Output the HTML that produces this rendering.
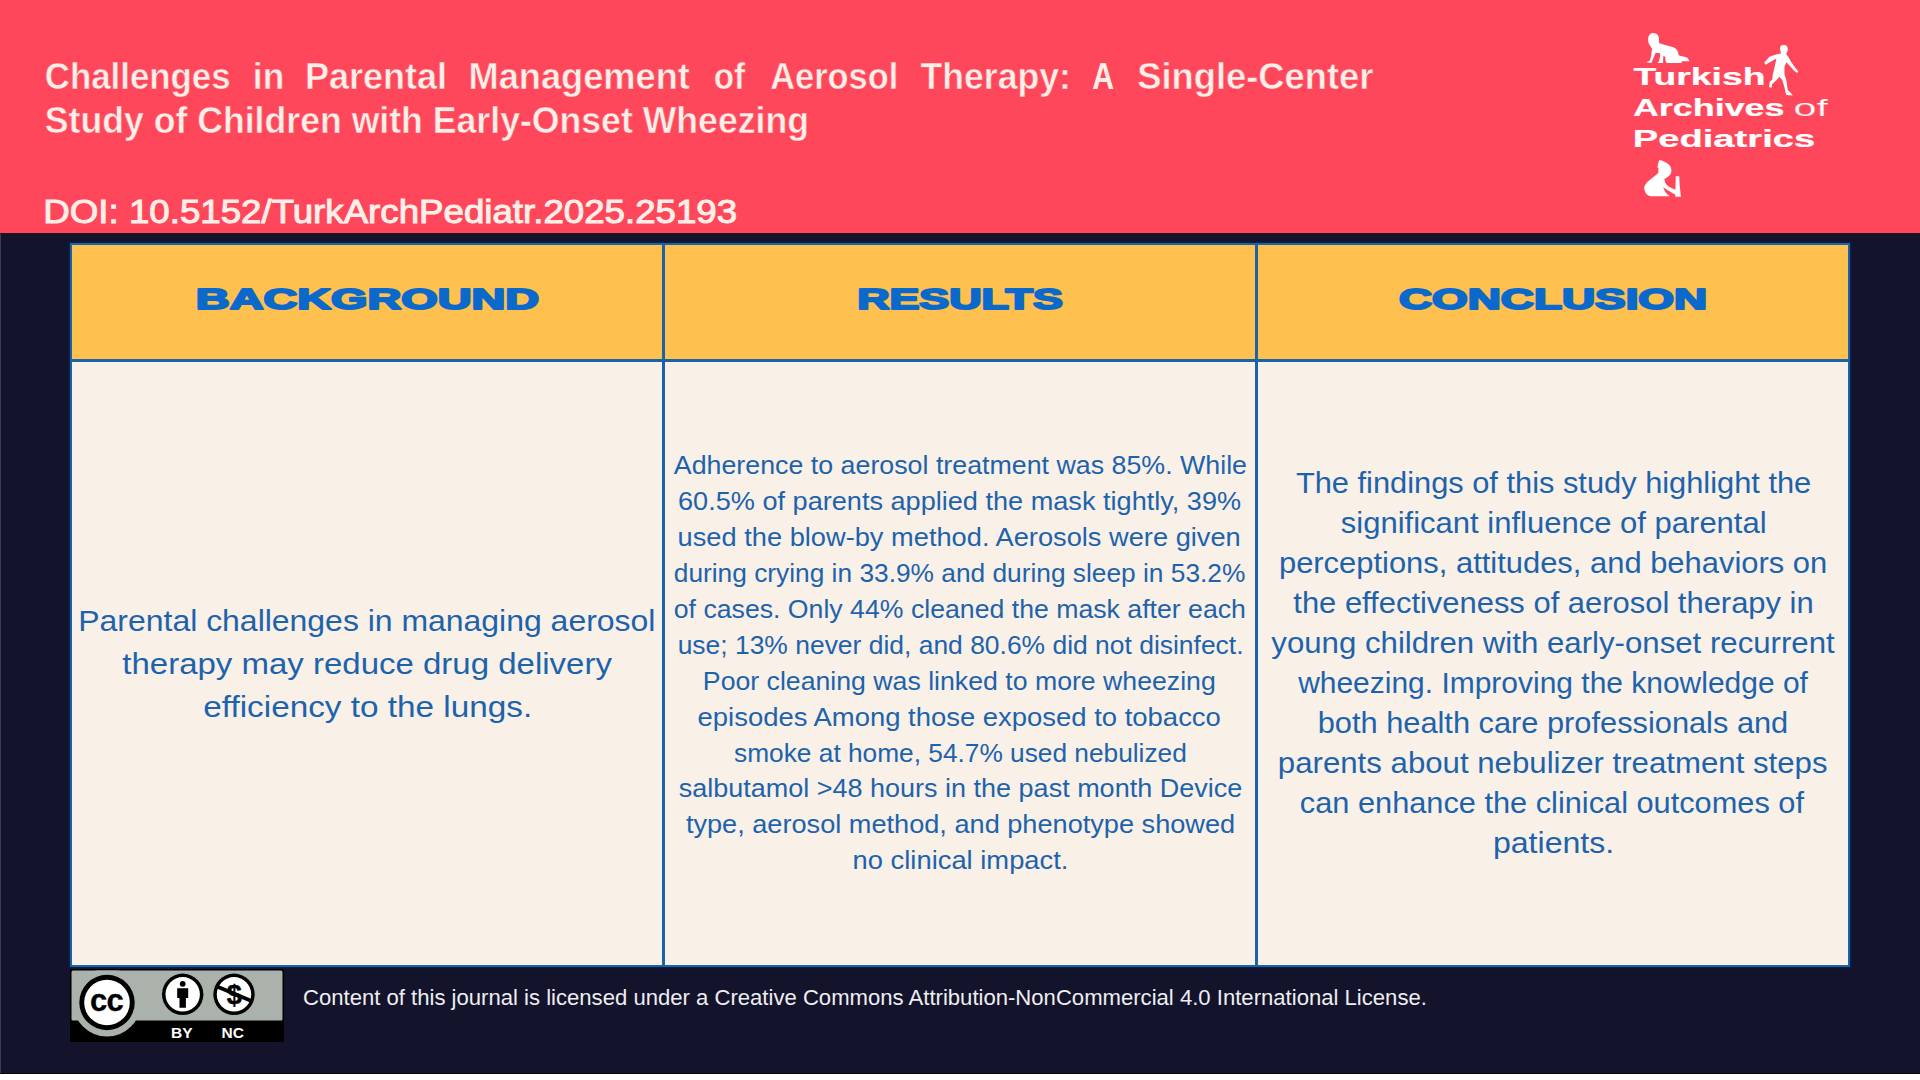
<!DOCTYPE html>
<html><head><meta charset="utf-8">
<style>
*{margin:0;padding:0;box-sizing:border-box}
html,body{width:1920px;height:1080px;overflow:hidden;background:#fff}
body{position:relative;font-family:"Liberation Sans",Arial,sans-serif}
.a{position:absolute}
#red{left:0;top:0;width:1920px;height:233px;background:#FF475B}
#dark{left:0;top:233px;width:1920px;height:841px;background:#13132B}
#edge{left:0;top:233px;width:1px;height:841px;background:#3c3d55}
#tbl{left:70px;top:243px;width:1780px;height:724px;background:#1C62A6;box-shadow:0 0 0 1.5px #0A1E48}
.hd{background:#FEC14F;top:245px;width:590px;height:114px}
.bd{background:#F9F0E8;top:362px;width:590px;height:603px}
svg{position:absolute;left:0;top:0;overflow:visible}
text{font-family:"Liberation Sans",Arial,sans-serif;white-space:pre}
</style></head><body>
<div class="a" id="red"></div>
<div class="a" id="dark"></div>
<div class="a" id="edge"></div>
<div class="a" style="left:0;top:233px;width:1920px;height:1px;background:#2A0A22"></div>
<div class="a" style="left:0;top:1073px;width:1920px;height:1px;background:#05051A"></div>
<div class="a" id="tbl"></div>
<div class="a hd" style="left:72px"></div>
<div class="a hd" style="left:665px"></div>
<div class="a hd" style="left:1258px"></div>
<div class="a bd" style="left:72px"></div>
<div class="a bd" style="left:665px"></div>
<div class="a bd" style="left:1258px"></div>

<!-- logo silhouettes -->
<svg width="1920" height="1080" viewBox="0 0 1920 1080">
<g fill="#FFFFFF">
<!-- crawling baby -->
<path transform="translate(1640 30) scale(0.03333)" d="M400 90 C520 90 580 180 570 300 L570 390 C700 440 850 480 1000 520 C1100 560 1150 640 1160 760 C1250 800 1350 800 1420 830 L1490 940 L1250 940 L1250 990 L800 990 C770 960 760 900 760 800 L700 780 L690 990 L520 990 L560 950 C600 850 620 750 600 700 L470 680 L440 760 L340 990 L180 970 L290 920 L330 800 L360 560 L270 420 C220 300 230 90 400 90 Z"/>
<!-- walking child -->
<path transform="translate(1760 40) scale(0.05556)" d="M430 90 C500 90 505 150 495 200 L470 250 L500 290 L545 370 L610 470 L670 540 L690 575 L660 590 L610 550 L530 460 L475 400 L440 480 L440 620 L470 700 L500 900 L560 960 L590 1000 L470 990 L440 850 L400 720 L350 660 L300 720 L220 790 L210 855 L165 850 L175 750 L220 715 L230 620 L260 500 L295 335 L160 410 L105 445 L75 410 L170 300 L300 255 L380 245 L360 170 C355 110 380 90 430 90 Z"/>
<!-- sitting baby -->
<path transform="translate(1640 155) scale(0.041667)" d="M465 118 C560 130 650 185 715 250 C760 310 765 400 735 455 C700 510 640 550 585 572 C590 640 615 700 670 745 C730 785 790 810 850 832 L858 510 L942 510 L950 700 L982 1000 L850 1000 L842 948 C790 915 700 870 585 790 L555 765 L585 845 C610 900 660 950 720 992 L250 992 C160 965 110 900 100 790 C110 700 200 620 300 545 C380 485 430 445 442 420 L442 310 L418 292 C428 230 445 160 465 118 Z"/>
</g>
</svg>

<!-- CC badge -->
<svg width="1920" height="1080" viewBox="0 0 1920 1080">
<defs><clipPath id="bclip"><rect x="71.5" y="970.5" width="211" height="70"/></clipPath></defs>
<rect x="70" y="969" width="214" height="73" fill="#000"/>
<rect x="71.5" y="970.5" width="211" height="50" rx="1.5" fill="#AAB2AB"/>
<circle cx="107" cy="1002.5" r="34" fill="#AAB2AB" clip-path="url(#bclip)"/>
<circle cx="107" cy="1002.5" r="27.7" fill="#000"/>
<circle cx="107" cy="1002.5" r="22.8" fill="#fff"/>
<text x="106.6" y="1010.6" text-anchor="middle" font-size="31" font-weight="bold" fill="#000" letter-spacing="-0.6" stroke="#000" stroke-width="0.3">cc</text>
<circle cx="182.7" cy="994.3" r="20.7" fill="#000"/>
<circle cx="182.7" cy="994.3" r="17.2" fill="#fff"/>
<circle cx="182.7" cy="983.8" r="2.9" fill="#000"/>
<path d="M177.2 988.2 h11 v9.8 h-2.3 v9.8 h-6.4 v-9.8 h-2.3 Z" fill="#000"/>
<circle cx="234" cy="994.3" r="20.7" fill="#000"/>
<circle cx="234" cy="994.3" r="17.2" fill="#fff"/>
<text x="234.2" y="1004" text-anchor="middle" font-size="27" font-weight="bold" fill="#000" stroke="#000" stroke-width="0.5">$</text>
<path d="M217 986.5 L251.5 1001" stroke="#000" stroke-width="3.6"/>
<text x="181.8" y="1037.7" text-anchor="middle" font-size="15.5" font-weight="bold" fill="#fff">BY</text>
<text x="232.8" y="1037.7" text-anchor="middle" font-size="15.5" font-weight="bold" fill="#fff">NC</text>
</svg>

<!-- text -->
<svg width="1920" height="1080" viewBox="0 0 1920 1080">
<text transform="translate(44.73 88.50) scale(0.9666 1)" font-size="36.05" font-weight="bold" fill="#FFEFE8" stroke="#FF475B" stroke-width="0.5">Challenges</text>
<text transform="translate(252.84 88.50) scale(0.9780 1)" font-size="36.05" font-weight="bold" fill="#FFEFE8" stroke="#FF475B" stroke-width="0.5">in</text>
<text transform="translate(304.90 88.50) scale(0.9990 1)" font-size="36.05" font-weight="bold" fill="#FFEFE8" stroke="#FF475B" stroke-width="0.5">Parental</text>
<text transform="translate(468.49 88.50) scale(1.0054 1)" font-size="36.05" font-weight="bold" fill="#FFEFE8" stroke="#FF475B" stroke-width="0.5">Management</text>
<text transform="translate(713.78 88.50) scale(0.9201 1)" font-size="36.05" font-weight="bold" fill="#FFEFE8" stroke="#FF475B" stroke-width="0.5">of</text>
<text transform="translate(770.20 88.50) scale(0.9539 1)" font-size="36.05" font-weight="bold" fill="#FFEFE8" stroke="#FF475B" stroke-width="0.5">Aerosol</text>
<text transform="translate(920.50 88.50) scale(0.9884 1)" font-size="36.05" font-weight="bold" fill="#FFEFE8" stroke="#FF475B" stroke-width="0.5">Therapy:</text>
<text transform="translate(1092.20 88.50) scale(0.8385 1)" font-size="36.05" font-weight="bold" fill="#FFEFE8" >A</text>
<text transform="translate(1137.29 88.50) scale(1.0077 1)" font-size="36.05" font-weight="bold" fill="#FFEFE8" stroke="#FF475B" stroke-width="0.5">Single-Center</text>
<text transform="translate(44.81 133.20) scale(0.9892 1)" font-size="36.05" font-weight="bold" fill="#FFEFE8" stroke="#FF475B" stroke-width="0.5">Study of Children with Early-Onset Wheezing</text>
<text transform="translate(43.37 222.50) scale(1.1140 1)" font-size="32.93" font-weight="normal" fill="#FFEFE8" stroke="#FFEFE8" stroke-width="1.0">DOI: 10.5152/TurkArchPediatr.2025.25193</text>
<text transform="translate(195.82 308.80) scale(1.6189 1)" font-size="28.92" font-weight="bold" fill="#0B69CB" stroke="#0B69CB" stroke-width="2.00" stroke-linejoin="round">BACKGROUND</text>
<text transform="translate(857.14 308.80) scale(1.5487 1)" font-size="28.92" font-weight="bold" fill="#0B69CB" stroke="#0B69CB" stroke-width="2.00" stroke-linejoin="round">RESULTS</text>
<text transform="translate(1398.95 308.80) scale(1.5855 1)" font-size="28.92" font-weight="bold" fill="#0B69CB" stroke="#0B69CB" stroke-width="2.00" stroke-linejoin="round">CONCLUSION</text>
<text transform="translate(78.28 631.00) scale(1.0603 1)" font-size="30.14" font-weight="normal" fill="#1D63AC" >Parental challenges in managing aerosol</text>
<text transform="translate(122.30 673.60) scale(1.0948 1)" font-size="30.14" font-weight="normal" fill="#1D63AC" >therapy may reduce drug delivery</text>
<text transform="translate(203.29 716.70) scale(1.1055 1)" font-size="30.14" font-weight="normal" fill="#1D63AC" >efficiency to the lungs.</text>
<text transform="translate(673.80 473.90) scale(1.0730 1)" font-size="24.98" font-weight="normal" fill="#1D63AC" >Adherence to aerosol treatment was 85%. While</text>
<text transform="translate(678.01 509.85) scale(1.0857 1)" font-size="24.98" font-weight="normal" fill="#1D63AC" >60.5% of parents applied the mask tightly, 39%</text>
<text transform="translate(677.61 545.80) scale(1.0907 1)" font-size="24.98" font-weight="normal" fill="#1D63AC" >used the blow-by method. Aerosols were given</text>
<text transform="translate(673.75 581.75) scale(1.0533 1)" font-size="24.98" font-weight="normal" fill="#1D63AC" >during crying in 33.9% and during sleep in 53.2%</text>
<text transform="translate(673.73 617.70) scale(1.0685 1)" font-size="24.98" font-weight="normal" fill="#1D63AC" >of cases. Only 44% cleaned the mask after each</text>
<text transform="translate(677.64 653.65) scale(1.0586 1)" font-size="24.98" font-weight="normal" fill="#1D63AC" >use; 13% never did, and 80.6% did not disinfect.</text>
<text transform="translate(702.86 689.60) scale(1.0684 1)" font-size="24.98" font-weight="normal" fill="#1D63AC" >Poor cleaning was linked to more wheezing</text>
<text transform="translate(697.60 725.55) scale(1.0988 1)" font-size="24.98" font-weight="normal" fill="#1D63AC" >episodes Among those exposed to tobacco</text>
<text transform="translate(734.10 761.50) scale(1.0522 1)" font-size="24.98" font-weight="normal" fill="#1D63AC" >smoke at home, 54.7% used nebulized</text>
<text transform="translate(678.70 797.45) scale(1.0813 1)" font-size="24.98" font-weight="normal" fill="#1D63AC" >salbutamol &gt;48 hours in the past month Device</text>
<text transform="translate(685.90 833.40) scale(1.0869 1)" font-size="24.98" font-weight="normal" fill="#1D63AC" >type, aerosol method, and phenotype showed</text>
<text transform="translate(852.60 869.35) scale(1.0952 1)" font-size="24.98" font-weight="normal" fill="#1D63AC" >no clinical impact.</text>
<text transform="translate(1295.90 492.80) scale(1.0566 1)" font-size="29.16" font-weight="normal" fill="#1D63AC" >The findings of this study highlight the</text>
<text transform="translate(1340.80 532.80) scale(1.0640 1)" font-size="29.16" font-weight="normal" fill="#1D63AC" >significant influence of parental</text>
<text transform="translate(1278.94 572.80) scale(1.0605 1)" font-size="29.16" font-weight="normal" fill="#1D63AC" >perceptions, attitudes, and behaviors on</text>
<text transform="translate(1293.30 612.80) scale(1.0614 1)" font-size="29.16" font-weight="normal" fill="#1D63AC" >the effectiveness of aerosol therapy in</text>
<text transform="translate(1271.30 652.80) scale(1.0699 1)" font-size="29.16" font-weight="normal" fill="#1D63AC" >young children with early-onset recurrent</text>
<text transform="translate(1298.13 692.80) scale(1.0280 1)" font-size="29.16" font-weight="normal" fill="#1D63AC" >wheezing. Improving the knowledge of</text>
<text transform="translate(1317.74 732.80) scale(1.0561 1)" font-size="29.16" font-weight="normal" fill="#1D63AC" >both health care professionals and</text>
<text transform="translate(1277.83 772.80) scale(1.0703 1)" font-size="29.16" font-weight="normal" fill="#1D63AC" >parents about nebulizer treatment steps</text>
<text transform="translate(1299.85 812.80) scale(1.0547 1)" font-size="29.16" font-weight="normal" fill="#1D63AC" >can enhance the clinical outcomes of</text>
<text transform="translate(1492.90 852.80) scale(1.1016 1)" font-size="29.16" font-weight="normal" fill="#1D63AC" >patients.</text>
<text transform="translate(302.96 1005.30) scale(1.0359 1)" font-size="21.35" font-weight="normal" fill="#EEEEF2" >Content of this journal is licensed under a Creative Commons Attribution-NonCommercial 4.0 International License.</text>
<text transform="translate(1633.50 84.50) scale(1.5191 1)" font-size="24.56" font-weight="bold" fill="#FFFFFF" stroke="#fff" stroke-width="0.2">Turkish</text>
<text transform="translate(1632.90 115.70) scale(1.4624 1)" font-size="24.56" font-weight="bold" fill="#FFFFFF" stroke="#fff" stroke-width="0.2">Archives</text>
<text transform="translate(1793.42 115.70) scale(1.6843 1)" font-size="24.56" font-weight="normal" fill="#FFFFFF" stroke="#FF475B" stroke-width="0.2">of</text>
<text transform="translate(1632.74 147.40) scale(1.5550 1)" font-size="24.56" font-weight="bold" fill="#FFFFFF" stroke="#fff" stroke-width="0.2">Pediatrics</text>
</svg>
</body></html>
